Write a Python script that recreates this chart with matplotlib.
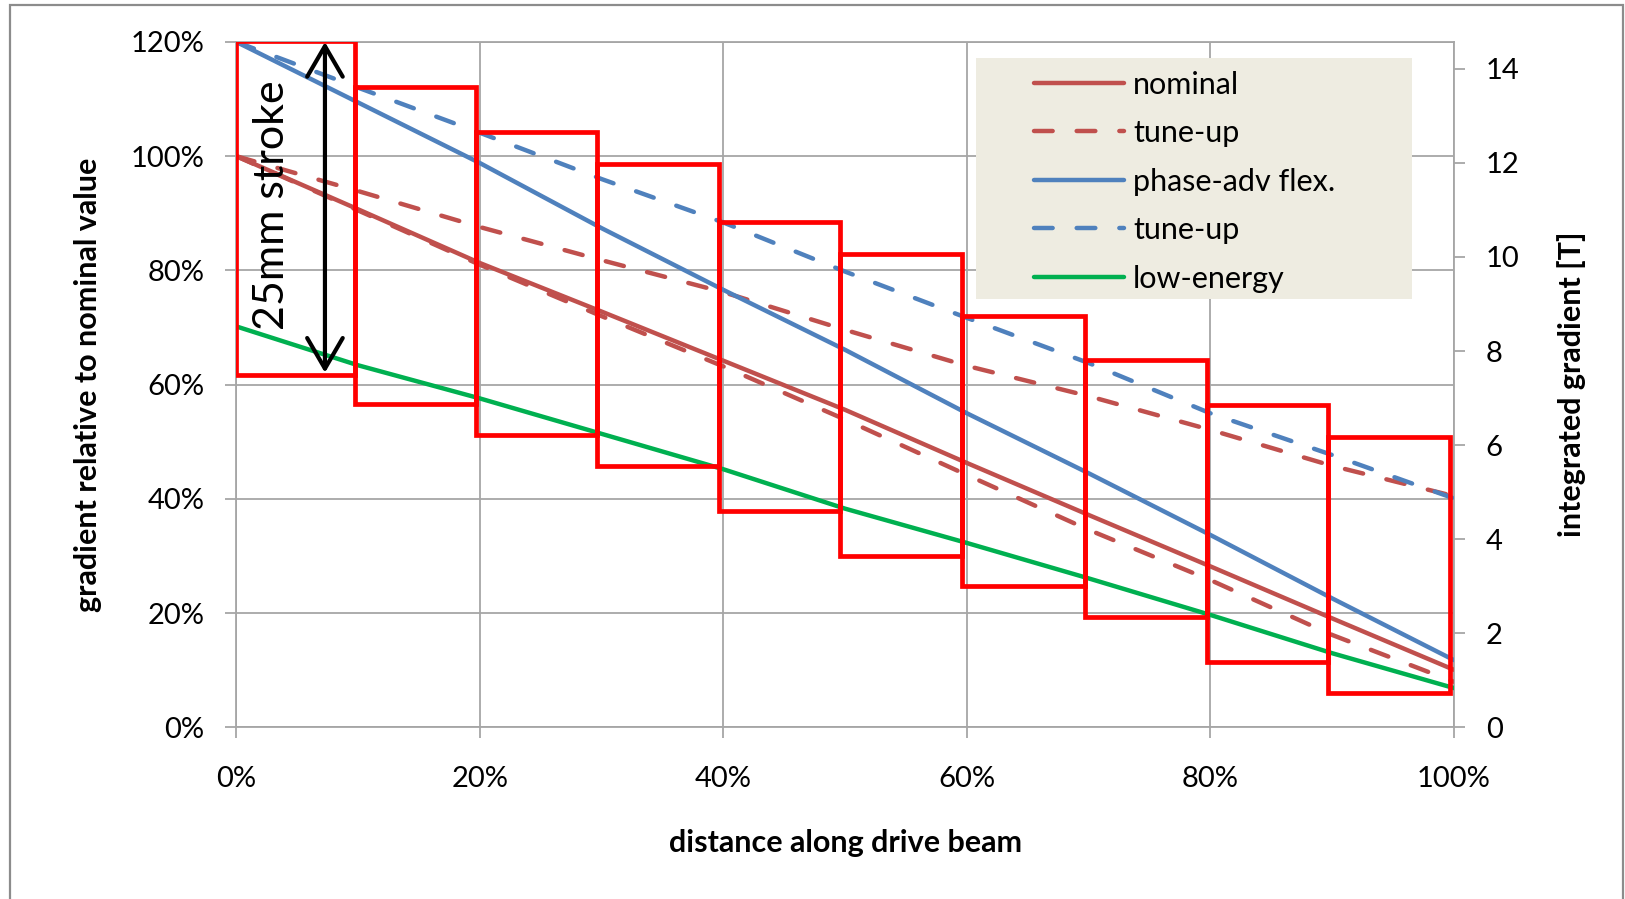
import matplotlib
matplotlib.use("Agg")
import matplotlib.pyplot as plt
import matplotlib.patches as pltpatches
from matplotlib.ticker import FuncFormatter

plt.rcParams["font.family"] = ["Lato", "DejaVu Sans"]

# distance along drive beam [%]
distance = [0, 10, 20, 30, 40, 50, 60, 70, 80, 90, 100]

# gradient relative to nominal value [%]
nominal = [100, 90.7, 81.3, 72.8, 64.2, 55.6, 46.3, 37.2, 28.2, 19.1, 10.1]
nominal_tune_up_high = [100, 93.9, 87.6, 81.8, 76.2, 69.6, 63.3, 58.0, 52.1, 45.8, 40.5]
nominal_tune_up_low = [100, 90.5, 81.0, 72.0, 63.2, 53.9, 44.2, 34.6, 25.8, 16.2, 8.0]
phase_adv = [120, 109.4, 98.8, 87.4, 76.6, 66.1, 55.0, 44.5, 33.7, 22.6, 11.8]
phase_adv_tune_up = [120, 112.0, 104.1, 96.0, 88.4, 79.8, 71.7, 63.8, 55.0, 47.7, 40.1]
low_energy = [70.2, 63.4, 57.6, 51.4, 45.2, 38.3, 32.3, 26.1, 19.7, 13.0, 6.9]

# 25mm stroke windows of the magnets
box_left = [0, 9.7, 19.7, 29.6, 39.6, 49.6, 59.6, 69.7, 79.7, 89.7]
box_right = [9.7, 19.7, 29.6, 39.6, 49.6, 59.6, 69.7, 79.7, 89.7, 99.7]
box_top = [120.1, 112.1, 104.3, 98.7, 88.4, 82.9, 72.1, 64.4, 56.5, 50.8]
box_bottom = [61.75, 56.7, 51.2, 45.7, 37.9, 30.0, 24.8, 19.4, 11.5, 6.0]

RED = "#C0504D"
BLUE = "#4F81BD"
GREEN = "#00B050"
GRID = "#A6A6A6"

fig = plt.figure(figsize=(16.25, 8.99), dpi=100)
ax = fig.add_axes([0.1455, 0.1908, 0.7492, 0.7625])

lw = 3.2
dash = (4.2, 5.4)
ax.plot(distance, nominal, color=RED, lw=lw, label="nominal", solid_capstyle="round", zorder=3)
ax.plot(distance, nominal_tune_up_high, color=RED, lw=lw, dashes=dash,
        dash_capstyle="round", label="tune-up", zorder=3)
ax.plot(distance, phase_adv, color=BLUE, lw=lw, label="phase-adv flex.", solid_capstyle="round", zorder=3)
ax.plot(distance, phase_adv_tune_up, color=BLUE, lw=lw, dashes=dash,
        dash_capstyle="round", label="tune-up", zorder=3)
ax.plot(distance, low_energy, color=GREEN, lw=lw, label="low-energy", solid_capstyle="round", zorder=3)
ax.plot(distance, nominal_tune_up_low, color=RED, lw=lw, dashes=dash,
        dash_capstyle="round", label="_nolegend_", zorder=3)

for left, right, top, bottom in zip(box_left, box_right, box_top, box_bottom):
    rect = pltpatches.Rectangle(
        (left, bottom), right - left, top - bottom,
        linewidth=3.4, edgecolor="#FF0000", facecolor="none",
        joinstyle="miter", zorder=4,
    )
    ax.add_patch(rect)

ax.annotate("", xy=(7.27, 120), xytext=(7.27, 62.1),
            arrowprops=dict(arrowstyle="<->,head_length=0.55,head_width=0.32",
                            lw=3, color="black", mutation_scale=40,
                            shrinkA=0, shrinkB=0),
            zorder=5)
ax.text(2.9, 91.4, "25mm stroke", rotation=90, fontsize=31,
        ha="center", va="center", zorder=5)

ax.set_xlim(0, 100)
ax.set_ylim(0, 120)
ax.set_xticks(range(0, 101, 20))
ax.set_yticks(range(0, 121, 20))
pct = FuncFormatter(lambda v, _: f"{v:.0f}%")
ax.xaxis.set_major_formatter(pct)
ax.yaxis.set_major_formatter(pct)
ax.grid(True, color=GRID, lw=1.3, zorder=0)
ax.set_axisbelow(True)
for spine in ax.spines.values():
    spine.set_color(GRID)
    spine.set_linewidth(1.3)
ax.tick_params(axis="y", direction="out", length=8, width=1.3, color=GRID,
               labelsize=21, pad=15)
ax.tick_params(axis="x", direction="out", length=8, width=1.3, color=GRID,
               labelsize=21, pad=20)

ax.set_xlabel("distance along drive beam", fontsize=22, fontweight="bold", va="center")
ax.xaxis.set_label_coords(0.5, -0.168)
ax.set_ylabel("gradient relative to nominal value", fontsize=22, fontweight="bold", va="center")
ax.yaxis.set_label_coords(-0.122, 0.5)

ax2 = ax.twinx()
ax2.set_ylim(0, 14.57)
ax2.set_yticks(range(0, 15, 2))
ax2.tick_params(axis="y", direction="out", length=8, width=1.3, color=GRID,
                labelsize=21, pad=15)
for spine in ax2.spines.values():
    spine.set_visible(False)
ax2.set_ylabel("integrated gradient [T]", fontsize=22, fontweight="bold", va="center")
ax2.yaxis.set_label_coords(1.097, 0.5)

# legend background panel
legend_bg = pltpatches.Rectangle((0.6075, 0.625), 0.3585, 0.352, transform=ax.transAxes,
                                 facecolor="#EEECE1", edgecolor="none", zorder=6)
ax.add_patch(legend_bg)
leg = ax.legend(loc="upper left", bbox_to_anchor=(0.645, 0.976), frameon=False,
                fontsize=22, handlelength=2.95, handletextpad=0.3, labelspacing=0.67,
                borderaxespad=0)
leg.set_zorder(7)

border = pltpatches.Rectangle((10 / 1625, -0.05), 1613 / 1625, 1.05 - 5 / 899,
                              transform=fig.transFigure, facecolor="none",
                              edgecolor="#8C8C8C", lw=1.6)
fig.patches.append(border)

fig.savefig("out.png", dpi=100)
